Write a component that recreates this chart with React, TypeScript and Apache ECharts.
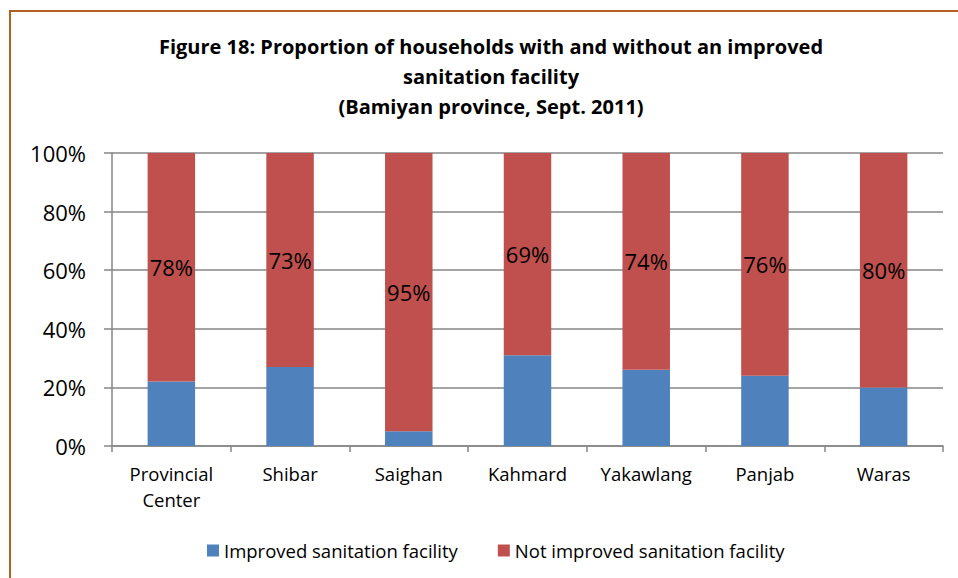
import React, { useEffect, useRef } from "react";
import * as echarts from "echarts";

const categories = ["Provincial\nCenter", "Shibar", "Saighan", "Kahmard", "Yakawlang", "Panjab", "Waras"];
const improved = [22, 27, 5, 31, 26, 24, 20];
const notImproved = [78, 73, 95, 69, 74, 76, 80];
const yTicks = [0, 20, 40, 60, 80, 100];

const FONT = "'Open Sans', 'Noto Sans', sans-serif";

export default function App() {
  const ref = useRef<HTMLDivElement>(null);
  useEffect(() => {
    document.body.style.margin = "0";
    const chart = echarts.init(ref.current!, null, { renderer: "svg" });
    chart.setOption({
      animation: false,
      backgroundColor: "#ffffff",
      textStyle: { fontFamily: FONT },
      title: {
        text: "Figure 18: Proportion of households with and without an improved\nsanitation facility\n(Bamiyan province, Sept. 2011)",
        left: 486,
        textAlign: "center",
        top: 26,
        textStyle: { fontFamily: FONT, fontSize: 20, fontWeight: "bold", color: "#000", lineHeight: 30 },
      },
      graphic: [
        {
          type: "rect",
          shape: { x: 10, y: 11, width: 1000, height: 700 },
          style: { fill: "none", stroke: "#B4601E", lineWidth: 2 },
          silent: true,
        },
      ],
      legend: {
        top: 536,
        left: 202,
        itemWidth: 12,
        itemHeight: 12,
        itemGap: 40,
        icon: "rect",
        textStyle: { fontFamily: FONT, fontSize: 18.5, color: "#000" },
        data: ["Improved sanitation facility", "Not improved sanitation facility"],
      },
      grid: { left: 112, right: 15, top: 153, bottom: 132 },
      xAxis: {
        type: "category",
        data: categories,
        axisLine: { lineStyle: { color: "#868686", width: 1.5 } },
        axisTick: { show: true, length: 6, lineStyle: { color: "#868686", width: 1.5 } },
        axisLabel: { fontFamily: FONT, fontSize: 18.5, color: "#000", margin: 14, lineHeight: 26 },
      },
      yAxis: {
        type: "value",
        min: 0,
        max: 100,
        interval: 20,
        axisLine: { show: true, lineStyle: { color: "#868686", width: 1.5 } },
        axisTick: { show: true, length: 8, lineStyle: { color: "#868686", width: 1.5 } },
        splitLine: { lineStyle: { color: "#868686", width: 1.5 } },
        axisLabel: {
          fontFamily: FONT,
          fontSize: 22,
          color: "#000",
          margin: 26,
          formatter: (v: number) => (yTicks.includes(v) ? v + "%" : ""),
        },
      },
      series: [
        {
          name: "Improved sanitation facility",
          type: "bar",
          stack: "total",
          data: improved,
          barWidth: "40%",
          itemStyle: { color: "#4F81BD" },
        },
        {
          name: "Not improved sanitation facility",
          type: "bar",
          stack: "total",
          data: notImproved,
          barWidth: "40%",
          itemStyle: { color: "#C0504D" },
          label: {
            show: true,
            position: "inside",
            formatter: (p: any) => p.value + "%",
            fontFamily: FONT,
            fontSize: 22,
            color: "#000",
          },
        },
      ],
    });
    return () => chart.dispose();
  }, []);
  return <div ref={ref} style={{ width: 958, height: 578 }} />;
}
